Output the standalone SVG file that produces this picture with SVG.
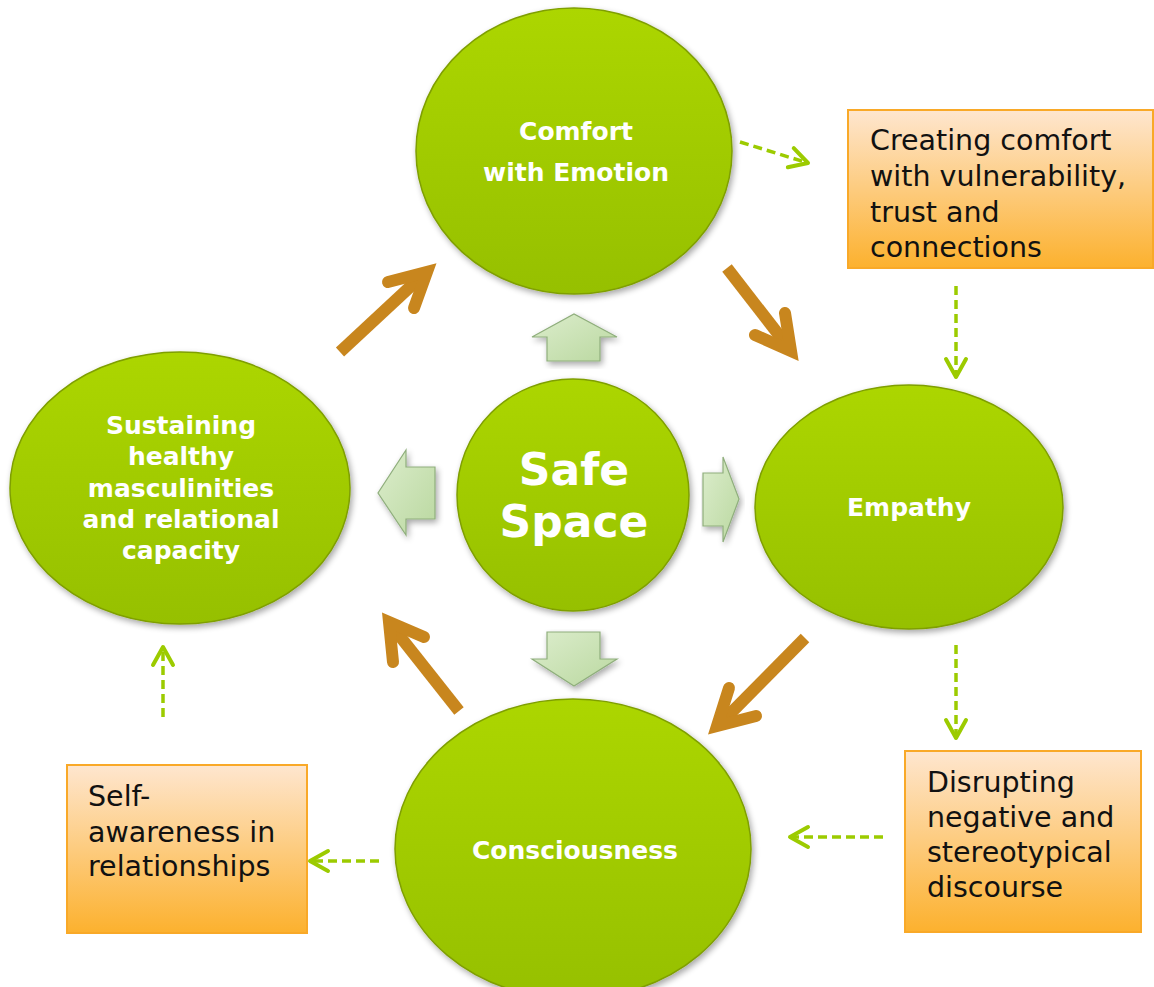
<svg xmlns="http://www.w3.org/2000/svg" width="1154" height="987" viewBox="0 0 1154 987">
  <defs>
    <linearGradient id="gGreen" x1="0" y1="0" x2="0" y2="1">
      <stop offset="0" stop-color="#acd600"/>
      <stop offset="1" stop-color="#96c000"/>
    </linearGradient>
    <linearGradient id="gOrange" x1="0" y1="0" x2="0" y2="1">
      <stop offset="0" stop-color="#fee6cf"/>
      <stop offset="1" stop-color="#fcb12e"/>
    </linearGradient>
    <linearGradient id="gBlock" x1="0" y1="0" x2="1" y2="1">
      <stop offset="0" stop-color="#dcedcc"/>
      <stop offset="1" stop-color="#bad8a0"/>
    </linearGradient>
    <filter id="shadow" x="-10%" y="-10%" width="125%" height="125%">
      <feGaussianBlur in="SourceAlpha" stdDeviation="3"/>
      <feOffset dx="2" dy="3" result="b"/>
      <feComponentTransfer><feFuncA type="linear" slope="0.35"/></feComponentTransfer>
      <feMerge><feMergeNode/><feMergeNode in="SourceGraphic"/></feMerge>
    </filter>
    <marker id="chev" viewBox="0 0 26 26" refX="22" refY="13" markerWidth="26" markerHeight="26" markerUnits="userSpaceOnUse" orient="auto">
      <path d="M4,3 L22,13 L4,23" fill="none" stroke="#9ccb00" stroke-width="4" stroke-linecap="round" stroke-linejoin="round"/>
    </marker>
  </defs>
  <style>
    .circle { fill: url(#gGreen); stroke: #7f9f00; stroke-width: 1.5; filter: url(#shadow); }
    .head { font-family: "DejaVu Sans", "Liberation Sans", sans-serif; font-weight: bold; fill: #ffffff; text-anchor: middle; font-size: 25px; }
    .box { fill: url(#gOrange); stroke: #f9a928; stroke-width: 2; }
    .note { font-family: "DejaVu Sans", "Liberation Sans", sans-serif; font-size: 28.5px; fill: #111111; }
    .cycle { fill: none; stroke: #c8861e; stroke-width: 12; stroke-linecap: butt; }
    .barb { fill: none; stroke: #c8861e; stroke-width: 12; stroke-linecap: round; stroke-linejoin: miter; stroke-miterlimit: 10; }
    .dash { fill: none; stroke: #9ccb00; stroke-width: 3.5; stroke-dasharray: 9 5; marker-end: url(#chev); }
    .block { fill: url(#gBlock); stroke: #8fae7c; stroke-width: 1.2; filter: url(#shadow); }
  </style>

  <!-- cycle connectors and side links -->
  <g id="connectors">
    <!-- brown cycle arrows -->
    <path class="cycle" d="M340,352 L425,273"/>
    <path class="barb" d="M388,282 L427,272 L414,308"/>
    <path class="cycle" d="M727,268 L789,348"/>
    <path class="barb" d="M755,335 L791,351 L785,313"/>
    <path class="cycle" d="M805,638 L719,725"/>
    <path class="barb" d="M729,688 L717,726 L756,716"/>
    <path class="cycle" d="M459,711 L391,625"/>
    <path class="barb" d="M393,662 L389,622 L424,637"/>

    <!-- light green block arrows out of the centre -->
    <path class="block" d="M547,361 L547,337 L532,337 L574,314 L617,337 L600,337 L600,361 Z"/>
    <path class="block" d="M547,632 L600,632 L600,659 L617,659 L574,686 L532,659 L547,659 Z"/>
    <path class="block" d="M435,467 L435,519 L406,519 L406,535 L378,493 L406,450 L406,467 Z"/>
    <path class="block" d="M703,473 L723,473 L723,457 L739,499 L723,542 L723,526 L703,526 Z"/>

    <!-- dashed links to the notes -->
    <path class="dash" d="M740,142 L808,163"/>
    <path class="dash" d="M956,286 L956,377"/>
    <path class="dash" d="M956,645 L956,738"/>
    <path class="dash" d="M883,837 L790,837"/>
    <path class="dash" d="M379,861 L310,861"/>
    <path class="dash" d="M163,717 L163,647"/>
  </g>

  <g id="node-comfort">
    <ellipse class="circle" cx="574" cy="151" rx="158" ry="143"/>
    <text class="head" x="576" y="140">Comfort</text>
    <text class="head" x="576" y="181">with Emotion</text>
  </g>

  <g id="node-empathy">
    <ellipse class="circle" cx="909" cy="507" rx="154" ry="122"/>
    <text class="head" x="909" y="516">Empathy</text>
  </g>

  <g id="node-consciousness">
    <ellipse class="circle" cx="573" cy="849" rx="178" ry="150"/>
    <text class="head" x="575" y="859">Consciousness</text>
  </g>

  <g id="node-sustaining">
    <ellipse class="circle" cx="180" cy="488" rx="170" ry="136"/>
    <text class="head" x="181" y="434">Sustaining</text>
    <text class="head" x="181" y="465">healthy</text>
    <text class="head" x="181" y="497">masculinities</text>
    <text class="head" x="181" y="528">and relational</text>
    <text class="head" x="181" y="559">capacity</text>
  </g>

  <g id="node-safe-space">
    <circle class="circle" cx="573" cy="495" r="116"/>
    <text class="head" style="font-size:44px" x="574" y="485">Safe</text>
    <text class="head" style="font-size:44px" x="574" y="537">Space</text>
  </g>

  <g id="note-comfort">
    <rect class="box" x="848" y="110" width="305" height="158"/>
    <text class="note" x="870" y="150">Creating comfort</text>
    <text class="note" x="870" y="186">with vulnerability,</text>
    <text class="note" x="870" y="222">trust and</text>
    <text class="note" x="870" y="257">connections</text>
  </g>

  <g id="note-disrupting">
    <rect class="box" x="905" y="751" width="236" height="181"/>
    <text class="note" x="927" y="792">Disrupting</text>
    <text class="note" x="927" y="827">negative and</text>
    <text class="note" x="927" y="862">stereotypical</text>
    <text class="note" x="927" y="897">discourse</text>
  </g>

  <g id="note-self-awareness">
    <rect class="box" x="67" y="765" width="240" height="168"/>
    <text class="note" x="88" y="806">Self-</text>
    <text class="note" x="88" y="842">awareness in</text>
    <text class="note" x="88" y="876">relationships</text>
  </g>
</svg>
